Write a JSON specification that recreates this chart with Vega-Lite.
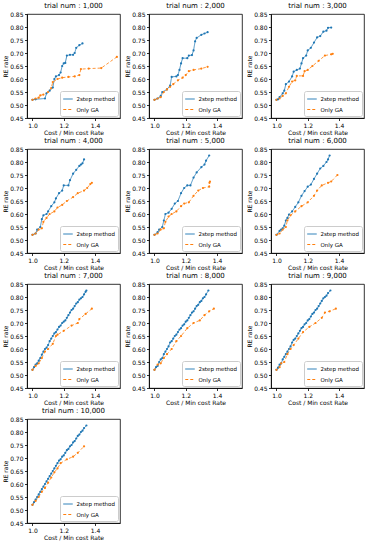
{
  "$schema": "https://vega.github.io/schema/vega-lite/v6.json",
  "padding": {"left": 1, "top": 1, "right": 0, "bottom": 0},
  "spacing": {"row": 0, "column": 2},
  "columns": 3,
  "datasets": {
    "d": [
      {"t":1000,"m":"2step method","x":1.0,"y":0.52},{"t":1000,"m":"2step method","x":1.02,"y":0.522},{"t":1000,"m":"2step method","x":1.08,"y":0.525},{"t":1000,"m":"2step method","x":1.09,"y":0.545},{"t":1000,"m":"2step method","x":1.11,"y":0.555},{"t":1000,"m":"2step method","x":1.13,"y":0.567},{"t":1000,"m":"2step method","x":1.14,"y":0.6},{"t":1000,"m":"2step method","x":1.15,"y":0.61},{"t":1000,"m":"2step method","x":1.17,"y":0.615},{"t":1000,"m":"2step method","x":1.18,"y":0.625},{"t":1000,"m":"2step method","x":1.19,"y":0.65},{"t":1000,"m":"2step method","x":1.2,"y":0.66},{"t":1000,"m":"2step method","x":1.21,"y":0.662},{"t":1000,"m":"2step method","x":1.22,"y":0.69},{"t":1000,"m":"2step method","x":1.24,"y":0.693},{"t":1000,"m":"2step method","x":1.26,"y":0.693},{"t":1000,"m":"2step method","x":1.27,"y":0.7},{"t":1000,"m":"2step method","x":1.28,"y":0.72},{"t":1000,"m":"2step method","x":1.3,"y":0.73},{"t":1000,"m":"2step method","x":1.32,"y":0.737},
      {"t":1000,"m":"Only GA","x":1.0,"y":0.52},{"t":1000,"m":"Only GA","x":1.02,"y":0.525},{"t":1000,"m":"Only GA","x":1.04,"y":0.528},{"t":1000,"m":"Only GA","x":1.05,"y":0.537},{"t":1000,"m":"Only GA","x":1.07,"y":0.54},{"t":1000,"m":"Only GA","x":1.1,"y":0.55},{"t":1000,"m":"Only GA","x":1.12,"y":0.565},{"t":1000,"m":"Only GA","x":1.13,"y":0.588},{"t":1000,"m":"Only GA","x":1.16,"y":0.6},{"t":1000,"m":"Only GA","x":1.19,"y":0.605},{"t":1000,"m":"Only GA","x":1.23,"y":0.608},{"t":1000,"m":"Only GA","x":1.27,"y":0.61},{"t":1000,"m":"Only GA","x":1.3,"y":0.615},{"t":1000,"m":"Only GA","x":1.31,"y":0.638},{"t":1000,"m":"Only GA","x":1.36,"y":0.64},{"t":1000,"m":"Only GA","x":1.44,"y":0.642},{"t":1000,"m":"Only GA","x":1.54,"y":0.685},
      {"t":2000,"m":"2step method","x":1.0,"y":0.52},{"t":2000,"m":"2step method","x":1.02,"y":0.525},{"t":2000,"m":"2step method","x":1.04,"y":0.535},{"t":2000,"m":"2step method","x":1.05,"y":0.55},{"t":2000,"m":"2step method","x":1.08,"y":0.56},{"t":2000,"m":"2step method","x":1.1,"y":0.575},{"t":2000,"m":"2step method","x":1.11,"y":0.608},{"t":2000,"m":"2step method","x":1.14,"y":0.61},{"t":2000,"m":"2step method","x":1.15,"y":0.615},{"t":2000,"m":"2step method","x":1.16,"y":0.635},{"t":2000,"m":"2step method","x":1.17,"y":0.66},{"t":2000,"m":"2step method","x":1.18,"y":0.68},{"t":2000,"m":"2step method","x":1.21,"y":0.68},{"t":2000,"m":"2step method","x":1.22,"y":0.69},{"t":2000,"m":"2step method","x":1.24,"y":0.692},{"t":2000,"m":"2step method","x":1.25,"y":0.71},{"t":2000,"m":"2step method","x":1.26,"y":0.745},{"t":2000,"m":"2step method","x":1.27,"y":0.758},{"t":2000,"m":"2step method","x":1.3,"y":0.77},{"t":2000,"m":"2step method","x":1.32,"y":0.775},{"t":2000,"m":"2step method","x":1.34,"y":0.78},
      {"t":2000,"m":"Only GA","x":1.0,"y":0.52},{"t":2000,"m":"Only GA","x":1.02,"y":0.525},{"t":2000,"m":"Only GA","x":1.04,"y":0.53},{"t":2000,"m":"Only GA","x":1.06,"y":0.55},{"t":2000,"m":"Only GA","x":1.08,"y":0.56},{"t":2000,"m":"Only GA","x":1.1,"y":0.57},{"t":2000,"m":"Only GA","x":1.12,"y":0.58},{"t":2000,"m":"Only GA","x":1.15,"y":0.595},{"t":2000,"m":"Only GA","x":1.18,"y":0.605},{"t":2000,"m":"Only GA","x":1.2,"y":0.615},{"t":2000,"m":"Only GA","x":1.22,"y":0.63},{"t":2000,"m":"Only GA","x":1.25,"y":0.635},{"t":2000,"m":"Only GA","x":1.3,"y":0.64},{"t":2000,"m":"Only GA","x":1.34,"y":0.647},
      {"t":3000,"m":"2step method","x":1.0,"y":0.52},{"t":3000,"m":"2step method","x":1.01,"y":0.522},{"t":3000,"m":"2step method","x":1.02,"y":0.53},{"t":3000,"m":"2step method","x":1.04,"y":0.545},{"t":3000,"m":"2step method","x":1.05,"y":0.555},{"t":3000,"m":"2step method","x":1.06,"y":0.58},{"t":3000,"m":"2step method","x":1.08,"y":0.59},{"t":3000,"m":"2step method","x":1.1,"y":0.61},{"t":3000,"m":"2step method","x":1.11,"y":0.628},{"t":3000,"m":"2step method","x":1.13,"y":0.635},{"t":3000,"m":"2step method","x":1.15,"y":0.64},{"t":3000,"m":"2step method","x":1.16,"y":0.66},{"t":3000,"m":"2step method","x":1.17,"y":0.68},{"t":3000,"m":"2step method","x":1.19,"y":0.69},{"t":3000,"m":"2step method","x":1.2,"y":0.71},{"t":3000,"m":"2step method","x":1.22,"y":0.72},{"t":3000,"m":"2step method","x":1.24,"y":0.74},{"t":3000,"m":"2step method","x":1.26,"y":0.76},{"t":3000,"m":"2step method","x":1.28,"y":0.765},{"t":3000,"m":"2step method","x":1.3,"y":0.782},{"t":3000,"m":"2step method","x":1.32,"y":0.786},{"t":3000,"m":"2step method","x":1.33,"y":0.797},{"t":3000,"m":"2step method","x":1.35,"y":0.798},
      {"t":3000,"m":"Only GA","x":1.0,"y":0.52},{"t":3000,"m":"Only GA","x":1.02,"y":0.525},{"t":3000,"m":"Only GA","x":1.04,"y":0.535},{"t":3000,"m":"Only GA","x":1.06,"y":0.545},{"t":3000,"m":"Only GA","x":1.08,"y":0.57},{"t":3000,"m":"Only GA","x":1.1,"y":0.59},{"t":3000,"m":"Only GA","x":1.12,"y":0.595},{"t":3000,"m":"Only GA","x":1.13,"y":0.612},{"t":3000,"m":"Only GA","x":1.17,"y":0.612},{"t":3000,"m":"Only GA","x":1.18,"y":0.63},{"t":3000,"m":"Only GA","x":1.2,"y":0.635},{"t":3000,"m":"Only GA","x":1.23,"y":0.65},{"t":3000,"m":"Only GA","x":1.27,"y":0.67},{"t":3000,"m":"Only GA","x":1.31,"y":0.69},{"t":3000,"m":"Only GA","x":1.35,"y":0.695},{"t":3000,"m":"Only GA","x":1.36,"y":0.697},
      {"t":4000,"m":"2step method","x":1.0,"y":0.52},{"t":4000,"m":"2step method","x":1.02,"y":0.525},{"t":4000,"m":"2step method","x":1.03,"y":0.54},{"t":4000,"m":"2step method","x":1.05,"y":0.55},{"t":4000,"m":"2step method","x":1.06,"y":0.58},{"t":4000,"m":"2step method","x":1.07,"y":0.595},{"t":4000,"m":"2step method","x":1.09,"y":0.6},{"t":4000,"m":"2step method","x":1.1,"y":0.61},{"t":4000,"m":"2step method","x":1.12,"y":0.63},{"t":4000,"m":"2step method","x":1.14,"y":0.645},{"t":4000,"m":"2step method","x":1.15,"y":0.66},{"t":4000,"m":"2step method","x":1.17,"y":0.68},{"t":4000,"m":"2step method","x":1.19,"y":0.69},{"t":4000,"m":"2step method","x":1.2,"y":0.71},{"t":4000,"m":"2step method","x":1.23,"y":0.71},{"t":4000,"m":"2step method","x":1.24,"y":0.73},{"t":4000,"m":"2step method","x":1.26,"y":0.755},{"t":4000,"m":"2step method","x":1.28,"y":0.77},{"t":4000,"m":"2step method","x":1.3,"y":0.785},{"t":4000,"m":"2step method","x":1.31,"y":0.79},{"t":4000,"m":"2step method","x":1.32,"y":0.795},{"t":4000,"m":"2step method","x":1.33,"y":0.81},
      {"t":4000,"m":"Only GA","x":1.0,"y":0.52},{"t":4000,"m":"Only GA","x":1.02,"y":0.525},{"t":4000,"m":"Only GA","x":1.04,"y":0.54},{"t":4000,"m":"Only GA","x":1.06,"y":0.545},{"t":4000,"m":"Only GA","x":1.07,"y":0.57},{"t":4000,"m":"Only GA","x":1.09,"y":0.585},{"t":4000,"m":"Only GA","x":1.11,"y":0.6},{"t":4000,"m":"Only GA","x":1.14,"y":0.61},{"t":4000,"m":"Only GA","x":1.16,"y":0.625},{"t":4000,"m":"Only GA","x":1.19,"y":0.635},{"t":4000,"m":"Only GA","x":1.22,"y":0.65},{"t":4000,"m":"Only GA","x":1.26,"y":0.665},{"t":4000,"m":"Only GA","x":1.29,"y":0.68},{"t":4000,"m":"Only GA","x":1.33,"y":0.69},{"t":4000,"m":"Only GA","x":1.35,"y":0.7},{"t":4000,"m":"Only GA","x":1.37,"y":0.715},{"t":4000,"m":"Only GA","x":1.38,"y":0.72},
      {"t":5000,"m":"2step method","x":1.0,"y":0.52},{"t":5000,"m":"2step method","x":1.02,"y":0.53},{"t":5000,"m":"2step method","x":1.03,"y":0.54},{"t":5000,"m":"2step method","x":1.05,"y":0.55},{"t":5000,"m":"2step method","x":1.06,"y":0.575},{"t":5000,"m":"2step method","x":1.07,"y":0.6},{"t":5000,"m":"2step method","x":1.09,"y":0.605},{"t":5000,"m":"2step method","x":1.11,"y":0.62},{"t":5000,"m":"2step method","x":1.13,"y":0.64},{"t":5000,"m":"2step method","x":1.15,"y":0.65},{"t":5000,"m":"2step method","x":1.17,"y":0.68},{"t":5000,"m":"2step method","x":1.19,"y":0.7},{"t":5000,"m":"2step method","x":1.21,"y":0.71},{"t":5000,"m":"2step method","x":1.23,"y":0.71},{"t":5000,"m":"2step method","x":1.25,"y":0.74},{"t":5000,"m":"2step method","x":1.27,"y":0.76},{"t":5000,"m":"2step method","x":1.3,"y":0.78},{"t":5000,"m":"2step method","x":1.32,"y":0.79},{"t":5000,"m":"2step method","x":1.33,"y":0.805},{"t":5000,"m":"2step method","x":1.35,"y":0.825},
      {"t":5000,"m":"Only GA","x":1.0,"y":0.52},{"t":5000,"m":"Only GA","x":1.02,"y":0.525},{"t":5000,"m":"Only GA","x":1.04,"y":0.54},{"t":5000,"m":"Only GA","x":1.06,"y":0.545},{"t":5000,"m":"Only GA","x":1.07,"y":0.57},{"t":5000,"m":"Only GA","x":1.09,"y":0.59},{"t":5000,"m":"Only GA","x":1.11,"y":0.6},{"t":5000,"m":"Only GA","x":1.14,"y":0.61},{"t":5000,"m":"Only GA","x":1.17,"y":0.63},{"t":5000,"m":"Only GA","x":1.19,"y":0.64},{"t":5000,"m":"Only GA","x":1.22,"y":0.645},{"t":5000,"m":"Only GA","x":1.25,"y":0.67},{"t":5000,"m":"Only GA","x":1.28,"y":0.69},{"t":5000,"m":"Only GA","x":1.31,"y":0.7},{"t":5000,"m":"Only GA","x":1.35,"y":0.705},{"t":5000,"m":"Only GA","x":1.352,"y":0.72},{"t":5000,"m":"Only GA","x":1.355,"y":0.725},
      {"t":6000,"m":"2step method","x":1.0,"y":0.52},{"t":6000,"m":"2step method","x":1.02,"y":0.535},{"t":6000,"m":"2step method","x":1.03,"y":0.54},{"t":6000,"m":"2step method","x":1.04,"y":0.545},{"t":6000,"m":"2step method","x":1.05,"y":0.555},{"t":6000,"m":"2step method","x":1.06,"y":0.575},{"t":6000,"m":"2step method","x":1.07,"y":0.585},{"t":6000,"m":"2step method","x":1.08,"y":0.598},{"t":6000,"m":"2step method","x":1.1,"y":0.61},{"t":6000,"m":"2step method","x":1.12,"y":0.627},{"t":6000,"m":"2step method","x":1.14,"y":0.645},{"t":6000,"m":"2step method","x":1.16,"y":0.67},{"t":6000,"m":"2step method","x":1.18,"y":0.688},{"t":6000,"m":"2step method","x":1.2,"y":0.705},{"t":6000,"m":"2step method","x":1.22,"y":0.713},{"t":6000,"m":"2step method","x":1.24,"y":0.735},{"t":6000,"m":"2step method","x":1.26,"y":0.755},{"t":6000,"m":"2step method","x":1.28,"y":0.775},{"t":6000,"m":"2step method","x":1.3,"y":0.785},{"t":6000,"m":"2step method","x":1.32,"y":0.8},{"t":6000,"m":"2step method","x":1.33,"y":0.81},{"t":6000,"m":"2step method","x":1.34,"y":0.825},
      {"t":6000,"m":"Only GA","x":1.0,"y":0.52},{"t":6000,"m":"Only GA","x":1.02,"y":0.525},{"t":6000,"m":"Only GA","x":1.04,"y":0.54},{"t":6000,"m":"Only GA","x":1.06,"y":0.55},{"t":6000,"m":"Only GA","x":1.07,"y":0.575},{"t":6000,"m":"Only GA","x":1.09,"y":0.595},{"t":6000,"m":"Only GA","x":1.12,"y":0.61},{"t":6000,"m":"Only GA","x":1.16,"y":0.63},{"t":6000,"m":"Only GA","x":1.2,"y":0.645},{"t":6000,"m":"Only GA","x":1.24,"y":0.67},{"t":6000,"m":"Only GA","x":1.26,"y":0.69},{"t":6000,"m":"Only GA","x":1.29,"y":0.71},{"t":6000,"m":"Only GA","x":1.33,"y":0.72},{"t":6000,"m":"Only GA","x":1.35,"y":0.725},{"t":6000,"m":"Only GA","x":1.39,"y":0.75},
      {"t":7000,"m":"2step method","x":1.0,"y":0.52},{"t":7000,"m":"2step method","x":1.01,"y":0.53},{"t":7000,"m":"2step method","x":1.02,"y":0.54},{"t":7000,"m":"2step method","x":1.03,"y":0.545},{"t":7000,"m":"2step method","x":1.04,"y":0.555},{"t":7000,"m":"2step method","x":1.05,"y":0.565},{"t":7000,"m":"2step method","x":1.06,"y":0.578},{"t":7000,"m":"2step method","x":1.07,"y":0.59},{"t":7000,"m":"2step method","x":1.08,"y":0.6},{"t":7000,"m":"2step method","x":1.09,"y":0.605},{"t":7000,"m":"2step method","x":1.1,"y":0.615},{"t":7000,"m":"2step method","x":1.11,"y":0.63},{"t":7000,"m":"2step method","x":1.12,"y":0.64},{"t":7000,"m":"2step method","x":1.13,"y":0.65},{"t":7000,"m":"2step method","x":1.14,"y":0.66},{"t":7000,"m":"2step method","x":1.15,"y":0.665},{"t":7000,"m":"2step method","x":1.16,"y":0.675},{"t":7000,"m":"2step method","x":1.17,"y":0.685},{"t":7000,"m":"2step method","x":1.18,"y":0.69},{"t":7000,"m":"2step method","x":1.19,"y":0.7},{"t":7000,"m":"2step method","x":1.2,"y":0.705},{"t":7000,"m":"2step method","x":1.21,"y":0.71},{"t":7000,"m":"2step method","x":1.22,"y":0.72},{"t":7000,"m":"2step method","x":1.23,"y":0.73},{"t":7000,"m":"2step method","x":1.24,"y":0.74},{"t":7000,"m":"2step method","x":1.25,"y":0.75},{"t":7000,"m":"2step method","x":1.26,"y":0.755},{"t":7000,"m":"2step method","x":1.27,"y":0.765},{"t":7000,"m":"2step method","x":1.28,"y":0.775},{"t":7000,"m":"2step method","x":1.29,"y":0.78},{"t":7000,"m":"2step method","x":1.3,"y":0.79},{"t":7000,"m":"2step method","x":1.31,"y":0.795},{"t":7000,"m":"2step method","x":1.32,"y":0.8},{"t":7000,"m":"2step method","x":1.33,"y":0.81},{"t":7000,"m":"2step method","x":1.34,"y":0.82},{"t":7000,"m":"2step method","x":1.345,"y":0.825},
      {"t":7000,"m":"Only GA","x":1.0,"y":0.52},{"t":7000,"m":"Only GA","x":1.02,"y":0.535},{"t":7000,"m":"Only GA","x":1.04,"y":0.545},{"t":7000,"m":"Only GA","x":1.06,"y":0.565},{"t":7000,"m":"Only GA","x":1.08,"y":0.59},{"t":7000,"m":"Only GA","x":1.1,"y":0.6},{"t":7000,"m":"Only GA","x":1.13,"y":0.62},{"t":7000,"m":"Only GA","x":1.15,"y":0.65},{"t":7000,"m":"Only GA","x":1.16,"y":0.655},{"t":7000,"m":"Only GA","x":1.2,"y":0.67},{"t":7000,"m":"Only GA","x":1.25,"y":0.69},{"t":7000,"m":"Only GA","x":1.29,"y":0.7},{"t":7000,"m":"Only GA","x":1.3,"y":0.715},{"t":7000,"m":"Only GA","x":1.34,"y":0.735},{"t":7000,"m":"Only GA","x":1.38,"y":0.755},
      {"t":8000,"m":"2step method","x":1.0,"y":0.52},{"t":8000,"m":"2step method","x":1.01,"y":0.53},{"t":8000,"m":"2step method","x":1.02,"y":0.535},{"t":8000,"m":"2step method","x":1.03,"y":0.55},{"t":8000,"m":"2step method","x":1.04,"y":0.56},{"t":8000,"m":"2step method","x":1.05,"y":0.565},{"t":8000,"m":"2step method","x":1.06,"y":0.58},{"t":8000,"m":"2step method","x":1.07,"y":0.59},{"t":8000,"m":"2step method","x":1.08,"y":0.6},{"t":8000,"m":"2step method","x":1.09,"y":0.61},{"t":8000,"m":"2step method","x":1.1,"y":0.625},{"t":8000,"m":"2step method","x":1.11,"y":0.63},{"t":8000,"m":"2step method","x":1.12,"y":0.64},{"t":8000,"m":"2step method","x":1.13,"y":0.65},{"t":8000,"m":"2step method","x":1.14,"y":0.655},{"t":8000,"m":"2step method","x":1.15,"y":0.665},{"t":8000,"m":"2step method","x":1.16,"y":0.675},{"t":8000,"m":"2step method","x":1.17,"y":0.68},{"t":8000,"m":"2step method","x":1.18,"y":0.69},{"t":8000,"m":"2step method","x":1.19,"y":0.695},{"t":8000,"m":"2step method","x":1.2,"y":0.705},{"t":8000,"m":"2step method","x":1.21,"y":0.71},{"t":8000,"m":"2step method","x":1.22,"y":0.72},{"t":8000,"m":"2step method","x":1.23,"y":0.73},{"t":8000,"m":"2step method","x":1.24,"y":0.74},{"t":8000,"m":"2step method","x":1.25,"y":0.745},{"t":8000,"m":"2step method","x":1.26,"y":0.755},{"t":8000,"m":"2step method","x":1.27,"y":0.765},{"t":8000,"m":"2step method","x":1.28,"y":0.77},{"t":8000,"m":"2step method","x":1.29,"y":0.78},{"t":8000,"m":"2step method","x":1.3,"y":0.785},{"t":8000,"m":"2step method","x":1.31,"y":0.795},{"t":8000,"m":"2step method","x":1.32,"y":0.8},{"t":8000,"m":"2step method","x":1.33,"y":0.81},{"t":8000,"m":"2step method","x":1.345,"y":0.825},
      {"t":8000,"m":"Only GA","x":1.0,"y":0.52},{"t":8000,"m":"Only GA","x":1.02,"y":0.54},{"t":8000,"m":"Only GA","x":1.04,"y":0.545},{"t":8000,"m":"Only GA","x":1.06,"y":0.565},{"t":8000,"m":"Only GA","x":1.08,"y":0.58},{"t":8000,"m":"Only GA","x":1.11,"y":0.6},{"t":8000,"m":"Only GA","x":1.14,"y":0.63},{"t":8000,"m":"Only GA","x":1.17,"y":0.65},{"t":8000,"m":"Only GA","x":1.21,"y":0.68},{"t":8000,"m":"Only GA","x":1.25,"y":0.7},{"t":8000,"m":"Only GA","x":1.29,"y":0.71},{"t":8000,"m":"Only GA","x":1.32,"y":0.73},{"t":8000,"m":"Only GA","x":1.35,"y":0.745},{"t":8000,"m":"Only GA","x":1.38,"y":0.755},
      {"t":9000,"m":"2step method","x":1.0,"y":0.52},{"t":9000,"m":"2step method","x":1.01,"y":0.528},{"t":9000,"m":"2step method","x":1.02,"y":0.54},{"t":9000,"m":"2step method","x":1.03,"y":0.545},{"t":9000,"m":"2step method","x":1.04,"y":0.56},{"t":9000,"m":"2step method","x":1.05,"y":0.57},{"t":9000,"m":"2step method","x":1.06,"y":0.58},{"t":9000,"m":"2step method","x":1.07,"y":0.59},{"t":9000,"m":"2step method","x":1.08,"y":0.6},{"t":9000,"m":"2step method","x":1.09,"y":0.61},{"t":9000,"m":"2step method","x":1.1,"y":0.625},{"t":9000,"m":"2step method","x":1.11,"y":0.635},{"t":9000,"m":"2step method","x":1.12,"y":0.64},{"t":9000,"m":"2step method","x":1.13,"y":0.65},{"t":9000,"m":"2step method","x":1.14,"y":0.66},{"t":9000,"m":"2step method","x":1.15,"y":0.67},{"t":9000,"m":"2step method","x":1.16,"y":0.68},{"t":9000,"m":"2step method","x":1.17,"y":0.685},{"t":9000,"m":"2step method","x":1.18,"y":0.695},{"t":9000,"m":"2step method","x":1.19,"y":0.7},{"t":9000,"m":"2step method","x":1.2,"y":0.71},{"t":9000,"m":"2step method","x":1.21,"y":0.715},{"t":9000,"m":"2step method","x":1.22,"y":0.725},{"t":9000,"m":"2step method","x":1.23,"y":0.735},{"t":9000,"m":"2step method","x":1.24,"y":0.74},{"t":9000,"m":"2step method","x":1.25,"y":0.75},{"t":9000,"m":"2step method","x":1.26,"y":0.755},{"t":9000,"m":"2step method","x":1.27,"y":0.765},{"t":9000,"m":"2step method","x":1.28,"y":0.775},{"t":9000,"m":"2step method","x":1.29,"y":0.785},{"t":9000,"m":"2step method","x":1.3,"y":0.795},{"t":9000,"m":"2step method","x":1.31,"y":0.8},{"t":9000,"m":"2step method","x":1.32,"y":0.805},{"t":9000,"m":"2step method","x":1.33,"y":0.815},{"t":9000,"m":"2step method","x":1.345,"y":0.825},
      {"t":9000,"m":"Only GA","x":1.0,"y":0.52},{"t":9000,"m":"Only GA","x":1.02,"y":0.53},{"t":9000,"m":"Only GA","x":1.03,"y":0.545},{"t":9000,"m":"Only GA","x":1.05,"y":0.55},{"t":9000,"m":"Only GA","x":1.07,"y":0.58},{"t":9000,"m":"Only GA","x":1.09,"y":0.6},{"t":9000,"m":"Only GA","x":1.11,"y":0.615},{"t":9000,"m":"Only GA","x":1.14,"y":0.64},{"t":9000,"m":"Only GA","x":1.17,"y":0.665},{"t":9000,"m":"Only GA","x":1.21,"y":0.685},{"t":9000,"m":"Only GA","x":1.25,"y":0.7},{"t":9000,"m":"Only GA","x":1.29,"y":0.72},{"t":9000,"m":"Only GA","x":1.31,"y":0.74},{"t":9000,"m":"Only GA","x":1.34,"y":0.745},{"t":9000,"m":"Only GA","x":1.38,"y":0.755},
      {"t":10000,"m":"2step method","x":1.0,"y":0.52},{"t":10000,"m":"2step method","x":1.01,"y":0.53},{"t":10000,"m":"2step method","x":1.02,"y":0.54},{"t":10000,"m":"2step method","x":1.03,"y":0.55},{"t":10000,"m":"2step method","x":1.04,"y":0.56},{"t":10000,"m":"2step method","x":1.05,"y":0.57},{"t":10000,"m":"2step method","x":1.06,"y":0.58},{"t":10000,"m":"2step method","x":1.07,"y":0.59},{"t":10000,"m":"2step method","x":1.08,"y":0.6},{"t":10000,"m":"2step method","x":1.09,"y":0.61},{"t":10000,"m":"2step method","x":1.1,"y":0.62},{"t":10000,"m":"2step method","x":1.11,"y":0.63},{"t":10000,"m":"2step method","x":1.12,"y":0.64},{"t":10000,"m":"2step method","x":1.13,"y":0.65},{"t":10000,"m":"2step method","x":1.14,"y":0.66},{"t":10000,"m":"2step method","x":1.15,"y":0.67},{"t":10000,"m":"2step method","x":1.16,"y":0.68},{"t":10000,"m":"2step method","x":1.17,"y":0.69},{"t":10000,"m":"2step method","x":1.18,"y":0.695},{"t":10000,"m":"2step method","x":1.19,"y":0.705},{"t":10000,"m":"2step method","x":1.2,"y":0.71},{"t":10000,"m":"2step method","x":1.21,"y":0.72},{"t":10000,"m":"2step method","x":1.22,"y":0.73},{"t":10000,"m":"2step method","x":1.23,"y":0.735},{"t":10000,"m":"2step method","x":1.24,"y":0.745},{"t":10000,"m":"2step method","x":1.25,"y":0.75},{"t":10000,"m":"2step method","x":1.26,"y":0.76},{"t":10000,"m":"2step method","x":1.27,"y":0.765},{"t":10000,"m":"2step method","x":1.28,"y":0.775},{"t":10000,"m":"2step method","x":1.29,"y":0.785},{"t":10000,"m":"2step method","x":1.3,"y":0.79},{"t":10000,"m":"2step method","x":1.31,"y":0.8},{"t":10000,"m":"2step method","x":1.32,"y":0.805},{"t":10000,"m":"2step method","x":1.33,"y":0.815},{"t":10000,"m":"2step method","x":1.345,"y":0.825},
      {"t":10000,"m":"Only GA","x":1.0,"y":0.52},{"t":10000,"m":"Only GA","x":1.02,"y":0.535},{"t":10000,"m":"Only GA","x":1.04,"y":0.55},{"t":10000,"m":"Only GA","x":1.06,"y":0.57},{"t":10000,"m":"Only GA","x":1.08,"y":0.585},{"t":10000,"m":"Only GA","x":1.1,"y":0.605},{"t":10000,"m":"Only GA","x":1.12,"y":0.625},{"t":10000,"m":"Only GA","x":1.14,"y":0.645},{"t":10000,"m":"Only GA","x":1.16,"y":0.66},{"t":10000,"m":"Only GA","x":1.18,"y":0.68},{"t":10000,"m":"Only GA","x":1.22,"y":0.695},{"t":10000,"m":"Only GA","x":1.26,"y":0.705},{"t":10000,"m":"Only GA","x":1.29,"y":0.72},{"t":10000,"m":"Only GA","x":1.33,"y":0.745}
    ]
  },
  "data": {"name": "d"},
  "resolve": {"legend": {"color": "independent", "strokeDash": "independent"}},
  "concat": [
    {"title": "trial num : 1,000", "width": 93, "height": 104, "transform": [{"filter": "datum.t == 1000"}], "mark": {"type": "line", "point": {"filled": true, "size": 5}, "strokeWidth": 0.8},
     "encoding": {"x": {"field": "x", "type": "quantitative", "scale": {"domain": [0.965, 1.56], "nice": false, "zero": false}, "axis": {"values": [1.0, 1.2, 1.4], "format": ".1f", "title": "Cost / Min cost Rate"}}, "y": {"field": "y", "type": "quantitative", "scale": {"domain": [0.45, 0.85], "nice": false, "zero": false}, "axis": {"values": [0.45, 0.5, 0.55, 0.6, 0.65, 0.7, 0.75, 0.8, 0.85], "format": ".2f", "title": "RE rate"}}, "color": {"field": "m", "type": "nominal", "scale": {"domain": ["2step method", "Only GA"], "range": ["#1f77b4", "#ff7f0e"]}, "title": null}, "strokeDash": {"field": "m", "type": "nominal", "scale": {"domain": ["2step method", "Only GA"], "range": [[1, 0], [3, 2]]}, "title": null}, "order": {"field": "x", "type": "quantitative"}}},
    {"title": "trial num : 2,000", "width": 93, "height": 104, "transform": [{"filter": "datum.t == 2000"}], "mark": {"type": "line", "point": {"filled": true, "size": 5}, "strokeWidth": 0.8},
     "encoding": {"x": {"field": "x", "type": "quantitative", "scale": {"domain": [0.965, 1.56], "nice": false, "zero": false}, "axis": {"values": [1.0, 1.2, 1.4], "format": ".1f", "title": "Cost / Min cost Rate"}}, "y": {"field": "y", "type": "quantitative", "scale": {"domain": [0.45, 0.85], "nice": false, "zero": false}, "axis": {"values": [0.45, 0.5, 0.55, 0.6, 0.65, 0.7, 0.75, 0.8, 0.85], "format": ".2f", "title": "RE rate"}}, "color": {"field": "m", "type": "nominal", "scale": {"domain": ["2step method", "Only GA"], "range": ["#1f77b4", "#ff7f0e"]}, "title": null}, "strokeDash": {"field": "m", "type": "nominal", "scale": {"domain": ["2step method", "Only GA"], "range": [[1, 0], [3, 2]]}, "title": null}, "order": {"field": "x", "type": "quantitative"}}},
    {"title": "trial num : 3,000", "width": 93, "height": 104, "transform": [{"filter": "datum.t == 3000"}], "mark": {"type": "line", "point": {"filled": true, "size": 5}, "strokeWidth": 0.8},
     "encoding": {"x": {"field": "x", "type": "quantitative", "scale": {"domain": [0.965, 1.56], "nice": false, "zero": false}, "axis": {"values": [1.0, 1.2, 1.4], "format": ".1f", "title": "Cost / Min cost Rate"}}, "y": {"field": "y", "type": "quantitative", "scale": {"domain": [0.45, 0.85], "nice": false, "zero": false}, "axis": {"values": [0.45, 0.5, 0.55, 0.6, 0.65, 0.7, 0.75, 0.8, 0.85], "format": ".2f", "title": "RE rate"}}, "color": {"field": "m", "type": "nominal", "scale": {"domain": ["2step method", "Only GA"], "range": ["#1f77b4", "#ff7f0e"]}, "title": null}, "strokeDash": {"field": "m", "type": "nominal", "scale": {"domain": ["2step method", "Only GA"], "range": [[1, 0], [3, 2]]}, "title": null}, "order": {"field": "x", "type": "quantitative"}}},
    {"title": "trial num : 4,000", "width": 93, "height": 104, "transform": [{"filter": "datum.t == 4000"}], "mark": {"type": "line", "point": {"filled": true, "size": 5}, "strokeWidth": 0.8},
     "encoding": {"x": {"field": "x", "type": "quantitative", "scale": {"domain": [0.965, 1.56], "nice": false, "zero": false}, "axis": {"values": [1.0, 1.2, 1.4], "format": ".1f", "title": "Cost / Min cost Rate"}}, "y": {"field": "y", "type": "quantitative", "scale": {"domain": [0.45, 0.85], "nice": false, "zero": false}, "axis": {"values": [0.45, 0.5, 0.55, 0.6, 0.65, 0.7, 0.75, 0.8, 0.85], "format": ".2f", "title": "RE rate"}}, "color": {"field": "m", "type": "nominal", "scale": {"domain": ["2step method", "Only GA"], "range": ["#1f77b4", "#ff7f0e"]}, "title": null}, "strokeDash": {"field": "m", "type": "nominal", "scale": {"domain": ["2step method", "Only GA"], "range": [[1, 0], [3, 2]]}, "title": null}, "order": {"field": "x", "type": "quantitative"}}},
    {"title": "trial num : 5,000", "width": 93, "height": 104, "transform": [{"filter": "datum.t == 5000"}], "mark": {"type": "line", "point": {"filled": true, "size": 5}, "strokeWidth": 0.8},
     "encoding": {"x": {"field": "x", "type": "quantitative", "scale": {"domain": [0.965, 1.56], "nice": false, "zero": false}, "axis": {"values": [1.0, 1.2, 1.4], "format": ".1f", "title": "Cost / Min cost Rate"}}, "y": {"field": "y", "type": "quantitative", "scale": {"domain": [0.45, 0.85], "nice": false, "zero": false}, "axis": {"values": [0.45, 0.5, 0.55, 0.6, 0.65, 0.7, 0.75, 0.8, 0.85], "format": ".2f", "title": "RE rate"}}, "color": {"field": "m", "type": "nominal", "scale": {"domain": ["2step method", "Only GA"], "range": ["#1f77b4", "#ff7f0e"]}, "title": null}, "strokeDash": {"field": "m", "type": "nominal", "scale": {"domain": ["2step method", "Only GA"], "range": [[1, 0], [3, 2]]}, "title": null}, "order": {"field": "x", "type": "quantitative"}}},
    {"title": "trial num : 6,000", "width": 93, "height": 104, "transform": [{"filter": "datum.t == 6000"}], "mark": {"type": "line", "point": {"filled": true, "size": 5}, "strokeWidth": 0.8},
     "encoding": {"x": {"field": "x", "type": "quantitative", "scale": {"domain": [0.965, 1.56], "nice": false, "zero": false}, "axis": {"values": [1.0, 1.2, 1.4], "format": ".1f", "title": "Cost / Min cost Rate"}}, "y": {"field": "y", "type": "quantitative", "scale": {"domain": [0.45, 0.85], "nice": false, "zero": false}, "axis": {"values": [0.45, 0.5, 0.55, 0.6, 0.65, 0.7, 0.75, 0.8, 0.85], "format": ".2f", "title": "RE rate"}}, "color": {"field": "m", "type": "nominal", "scale": {"domain": ["2step method", "Only GA"], "range": ["#1f77b4", "#ff7f0e"]}, "title": null}, "strokeDash": {"field": "m", "type": "nominal", "scale": {"domain": ["2step method", "Only GA"], "range": [[1, 0], [3, 2]]}, "title": null}, "order": {"field": "x", "type": "quantitative"}}},
    {"title": "trial num : 7,000", "width": 93, "height": 104, "transform": [{"filter": "datum.t == 7000"}], "mark": {"type": "line", "point": {"filled": true, "size": 5}, "strokeWidth": 0.8},
     "encoding": {"x": {"field": "x", "type": "quantitative", "scale": {"domain": [0.965, 1.56], "nice": false, "zero": false}, "axis": {"values": [1.0, 1.2, 1.4], "format": ".1f", "title": "Cost / Min cost Rate"}}, "y": {"field": "y", "type": "quantitative", "scale": {"domain": [0.45, 0.85], "nice": false, "zero": false}, "axis": {"values": [0.45, 0.5, 0.55, 0.6, 0.65, 0.7, 0.75, 0.8, 0.85], "format": ".2f", "title": "RE rate"}}, "color": {"field": "m", "type": "nominal", "scale": {"domain": ["2step method", "Only GA"], "range": ["#1f77b4", "#ff7f0e"]}, "title": null}, "strokeDash": {"field": "m", "type": "nominal", "scale": {"domain": ["2step method", "Only GA"], "range": [[1, 0], [3, 2]]}, "title": null}, "order": {"field": "x", "type": "quantitative"}}},
    {"title": "trial num : 8,000", "width": 93, "height": 104, "transform": [{"filter": "datum.t == 8000"}], "mark": {"type": "line", "point": {"filled": true, "size": 5}, "strokeWidth": 0.8},
     "encoding": {"x": {"field": "x", "type": "quantitative", "scale": {"domain": [0.965, 1.56], "nice": false, "zero": false}, "axis": {"values": [1.0, 1.2, 1.4], "format": ".1f", "title": "Cost / Min cost Rate"}}, "y": {"field": "y", "type": "quantitative", "scale": {"domain": [0.45, 0.85], "nice": false, "zero": false}, "axis": {"values": [0.45, 0.5, 0.55, 0.6, 0.65, 0.7, 0.75, 0.8, 0.85], "format": ".2f", "title": "RE rate"}}, "color": {"field": "m", "type": "nominal", "scale": {"domain": ["2step method", "Only GA"], "range": ["#1f77b4", "#ff7f0e"]}, "title": null}, "strokeDash": {"field": "m", "type": "nominal", "scale": {"domain": ["2step method", "Only GA"], "range": [[1, 0], [3, 2]]}, "title": null}, "order": {"field": "x", "type": "quantitative"}}},
    {"title": "trial num : 9,000", "width": 93, "height": 104, "transform": [{"filter": "datum.t == 9000"}], "mark": {"type": "line", "point": {"filled": true, "size": 5}, "strokeWidth": 0.8},
     "encoding": {"x": {"field": "x", "type": "quantitative", "scale": {"domain": [0.965, 1.56], "nice": false, "zero": false}, "axis": {"values": [1.0, 1.2, 1.4], "format": ".1f", "title": "Cost / Min cost Rate"}}, "y": {"field": "y", "type": "quantitative", "scale": {"domain": [0.45, 0.85], "nice": false, "zero": false}, "axis": {"values": [0.45, 0.5, 0.55, 0.6, 0.65, 0.7, 0.75, 0.8, 0.85], "format": ".2f", "title": "RE rate"}}, "color": {"field": "m", "type": "nominal", "scale": {"domain": ["2step method", "Only GA"], "range": ["#1f77b4", "#ff7f0e"]}, "title": null}, "strokeDash": {"field": "m", "type": "nominal", "scale": {"domain": ["2step method", "Only GA"], "range": [[1, 0], [3, 2]]}, "title": null}, "order": {"field": "x", "type": "quantitative"}}},
    {"title": "trial num : 10,000", "width": 93, "height": 104, "transform": [{"filter": "datum.t == 10000"}], "mark": {"type": "line", "point": {"filled": true, "size": 5}, "strokeWidth": 0.8},
     "encoding": {"x": {"field": "x", "type": "quantitative", "scale": {"domain": [0.965, 1.56], "nice": false, "zero": false}, "axis": {"values": [1.0, 1.2, 1.4], "format": ".1f", "title": "Cost / Min cost Rate"}}, "y": {"field": "y", "type": "quantitative", "scale": {"domain": [0.45, 0.85], "nice": false, "zero": false}, "axis": {"values": [0.45, 0.5, 0.55, 0.6, 0.65, 0.7, 0.75, 0.8, 0.85], "format": ".2f", "title": "RE rate"}}, "color": {"field": "m", "type": "nominal", "scale": {"domain": ["2step method", "Only GA"], "range": ["#1f77b4", "#ff7f0e"]}, "title": null}, "strokeDash": {"field": "m", "type": "nominal", "scale": {"domain": ["2step method", "Only GA"], "range": [[1, 0], [3, 2]]}, "title": null}, "order": {"field": "x", "type": "quantitative"}}}
  ],
  "config": {
    "font": "DejaVu Sans",
    "background": "white",
    "view": {"stroke": "black", "strokeWidth": 0.8},
    "title": {"fontSize": 7, "fontWeight": "normal", "color": "black", "offset": 2},
    "axis": {"labelFontSize": 6, "titleFontSize": 6, "titleFontWeight": "normal", "labelColor": "black", "titleColor": "black", "domainColor": "black", "tickColor": "black", "grid": false, "tickSize": 2.5, "titlePadding": 1.5, "labelPadding": 1.5, "domainWidth": 0.8, "tickWidth": 0.8},
    "legend": {"orient": "bottom-right", "offset": 2, "padding": 2.5, "fillColor": "white", "strokeColor": "#cccccc", "cornerRadius": 2, "labelFontSize": 5.5, "labelColor": "black", "symbolType": "stroke", "symbolSize": 90, "symbolStrokeWidth": 1, "rowPadding": 1.5, "labelOffset": 3}
  }
}
